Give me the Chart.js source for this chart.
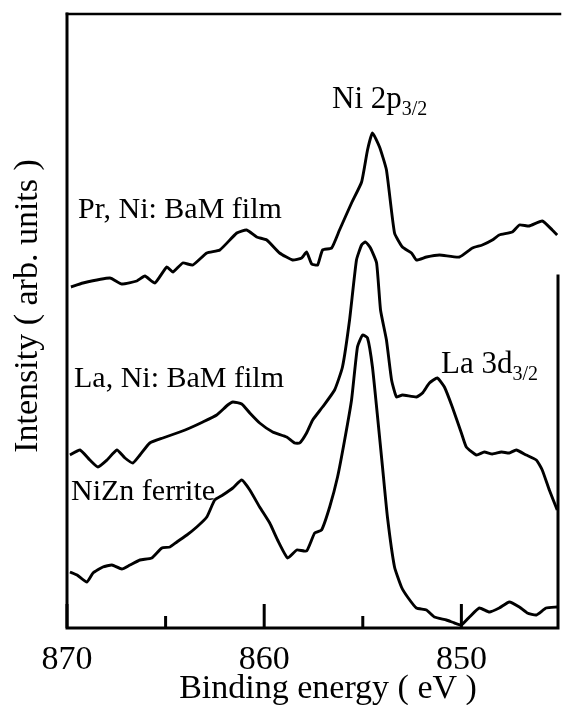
<!DOCTYPE html>
<html>
<head>
<meta charset="utf-8">
<script src="https://cdn.jsdelivr.net/npm/chart.js@4.4.0/dist/chart.umd.min.js"></script>
<style>
  html, body { margin: 0; padding: 0; background: #fff; }
  #wrap { width: 562px; height: 705px; }
</style>
</head>
<body>
<div id="wrap"><canvas id="grafica" width="562" height="705"></canvas></div>
<script>
// Datos: energia de enlace (eV) e intensidad (unidades arbitrarias)
const energiaPr = [869.80, 869.19, 867.82, 867.22, 866.46, 866.05, 865.54, 864.94, 864.63, 864.13, 863.62, 862.91, 862.25, 861.39, 860.89, 860.38, 859.87, 859.22, 858.56, 858.10, 857.85, 857.59, 857.29, 857.04, 856.58, 856.18, 855.57, 855.06, 854.76, 854.51, 854.15, 853.80, 853.39, 852.99, 852.53, 852.28, 851.77, 851.11, 850.10, 849.44, 848.94, 848.43, 848.08, 847.42, 847.06, 846.56, 845.90, 845.39, 845.14];
const intensidadPr = [341, 345, 350, 344, 347, 352, 345, 361, 356, 365, 363, 375, 378, 395, 398, 391, 388, 375, 368, 370, 376, 364, 363, 378, 380, 398, 425, 446, 478, 495, 481, 458, 395, 381, 375, 368, 371, 373, 371, 380, 383, 388, 393, 396, 403, 402, 407, 398, 393];

const energiaLa = [869.85, 869.34, 868.84, 868.43, 867.97, 867.47, 867.06, 866.66, 866.30, 865.80, 865.14, 864.28, 863.77, 863.11, 862.41, 861.85, 861.59, 861.14, 860.73, 860.23, 859.57, 858.86, 858.46, 858.20, 857.85, 857.54, 857.04, 856.43, 856.03, 855.67, 855.32, 855.06, 854.86, 854.61, 854.30, 854.10, 853.80, 853.54, 853.29, 852.99, 852.28, 851.97, 851.62, 851.22, 850.86, 850.46, 850.00, 849.75, 849.24, 848.84, 848.43, 847.97, 847.57, 847.22, 846.71, 846.20, 845.90, 845.54, 845.14];
const intensidadLa = [173, 178, 168, 161, 168, 178, 170, 165, 173, 185, 190, 196, 200, 206, 213, 223, 226, 224, 215, 205, 196, 191, 185, 185, 195, 208, 221, 238, 261, 308, 368, 383, 386, 380, 365, 318, 288, 248, 231, 233, 231, 235, 245, 250, 241, 221, 195, 181, 173, 176, 174, 176, 175, 178, 173, 168, 158, 138, 118];

const energiaNiZn = [869.85, 869.49, 868.99, 868.68, 868.18, 867.72, 867.22, 866.81, 866.30, 865.70, 865.19, 864.78, 864.43, 863.92, 863.42, 862.91, 862.51, 862.10, 861.59, 861.14, 860.73, 860.23, 859.72, 859.32, 858.81, 858.35, 857.85, 857.44, 857.09, 856.68, 856.28, 855.92, 855.57, 855.27, 855.01, 854.76, 854.51, 854.25, 854.00, 853.75, 853.39, 853.04, 852.73, 852.28, 851.77, 851.37, 850.76, 850.35, 850.00, 849.59, 849.09, 848.58, 848.08, 847.57, 847.06, 846.66, 846.20, 845.70, 845.14];
const intensidadNiZn = [56, 53, 46, 55, 61, 63, 59, 63, 68, 70, 80, 81, 86, 93, 101, 111, 128, 133, 140, 148, 138, 121, 105, 88, 70, 78, 77, 95, 98, 121, 151, 188, 228, 281, 293, 290, 261, 211, 161, 111, 61, 41, 31, 20, 18, 11, 8, 5, 3, 11, 20, 16, 20, 26, 21, 15, 13, 20, 21];

// Marcas del eje x
const ticksMayores = [870, 860, 850];
const ticksMenores = [865, 855];

const FUENTE = '"Liberation Serif", "Times New Roman", serif';

function puntos(xs, ys) {
    return xs.map((x, i) => ({ x: x, y: ys[i] }));
}

// Plugin para ejes, textos y marcas
const ejesYTextos = {
    id: 'ejesYTextos',
    afterDraw(chart) {
        const ctx = chart.ctx;
        const a = chart.chartArea;
        const sx = chart.scales.x;
        ctx.save();
        ctx.strokeStyle = '#000';
        ctx.lineCap = 'square';

        // marco
        ctx.lineWidth = 3;
        ctx.beginPath();
        ctx.moveTo(a.left, a.top);
        ctx.lineTo(a.left, a.bottom);
        ctx.lineTo(a.right, a.bottom);
        ctx.lineTo(a.right, 276);
        ctx.stroke();
        ctx.lineWidth = 2.5;
        ctx.beginPath();
        ctx.moveTo(a.left, a.top);
        ctx.lineTo(a.right + 2, a.top);
        ctx.stroke();

        // marcas hacia dentro
        ctx.lineWidth = 3;
        ctx.lineCap = 'butt';
        ticksMayores.forEach(t => {
            const px = sx.getPixelForValue(t);
            ctx.beginPath();
            ctx.moveTo(px, a.bottom);
            ctx.lineTo(px, a.bottom - 24);
            ctx.stroke();
        });
        ticksMenores.forEach(t => {
            const px = sx.getPixelForValue(t);
            ctx.beginPath();
            ctx.moveTo(px, a.bottom);
            ctx.lineTo(px, a.bottom - 12);
            ctx.stroke();
        });

        // etiquetas del eje x
        ctx.fillStyle = '#000';
        ctx.font = '34px ' + FUENTE;
        ctx.textAlign = 'center';
        ctx.textBaseline = 'alphabetic';
        ticksMayores.forEach(t => {
            ctx.fillText(String(t), sx.getPixelForValue(t), 669);
        });
        ctx.fillText('Binding energy ( eV )', 328, 698);

        // titulo eje y
        ctx.save();
        ctx.translate(37, 306);
        ctx.rotate(-Math.PI / 2);
        ctx.fillText('Intensity ( arb. units )', 0, 0);
        ctx.restore();

        // rotulos de las curvas
        ctx.textAlign = 'left';
        ctx.font = '30px ' + FUENTE;
        ctx.fillText('Pr, Ni: BaM film', 78, 218);
        ctx.fillText('La, Ni: BaM film', 74, 387);
        ctx.fillText('NiZn ferrite', 71, 500);

        conSubindice(ctx, 'Ni 2p', '3/2', 332, 108);
        conSubindice(ctx, 'La 3d', '3/2', 441, 373);

        ctx.restore();
    }
};

function conSubindice(ctx, texto, sub, x, y) {
    ctx.font = '31px ' + FUENTE;
    ctx.fillText(texto, x, y);
    const w = ctx.measureText(texto).width;
    ctx.font = '20px ' + FUENTE;
    ctx.fillText(sub, x + w, y + 7);
}

function serie(xs, ys) {
    return {
        data: puntos(xs, ys),
        borderColor: '#000',
        borderWidth: 2.9,
        pointRadius: 0,
        tension: 0.15,
        fill: false
    };
}

document.addEventListener('DOMContentLoaded', function () {
    const canvas = document.getElementById('grafica');
    new Chart(canvas, {
        type: 'line',
        data: {
            datasets: [
                serie(energiaPr, intensidadPr),
                serie(energiaLa, intensidadLa),
                serie(energiaNiZn, intensidadNiZn)
            ]
        },
        options: {
            responsive: false,
            animation: false,
            layout: { padding: { left: 67, top: 14, right: 4, bottom: 77 } },
            plugins: { legend: { display: false }, tooltip: { enabled: false } },
            scales: {
                x: { type: 'linear', reverse: true, min: 845.1, max: 870, display: false },
                y: { type: 'linear', min: 0, max: 614, display: false }
            }
        },
        plugins: [ejesYTextos]
    });
});
</script>
</body>
</html>
